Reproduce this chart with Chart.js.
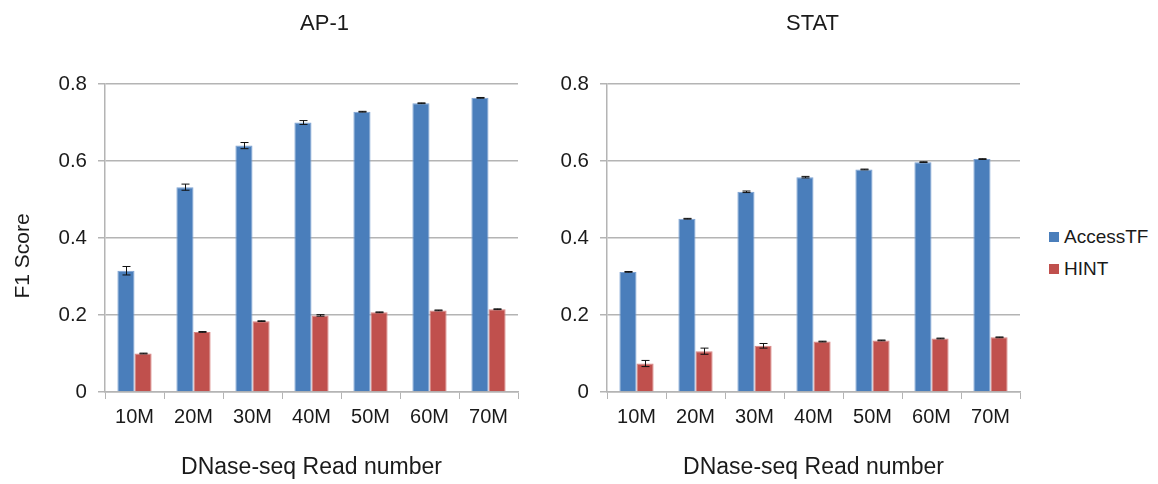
<!DOCTYPE html>
<html>
<head>
<meta charset="utf-8">
<script src="https://cdn.jsdelivr.net/npm/chart.js@4.4.1/dist/chart.umd.min.js"></script>
<style>
  body { margin: 0; background: #fff; font-family: "Liberation Sans", Arial, sans-serif; }
  #wrap { position: relative; width: 1158px; height: 484px; }
  #leftBox { position: absolute; left: 0; top: 0; }
  #rightBox { position: absolute; left: 540px; top: 0; }
  #legend { position: absolute; left: 1049px; top: 221px; font-size: 19px; color: #1a1a1a; }
  .item { display: flex; align-items: center; height: 32px; }
  .swatch { width: 10px; height: 10px; margin-right: 5px; }
</style>
</head>
<body>
<div id="wrap">
  <div id="leftBox"><canvas id="ap1Chart" width="540" height="484"></canvas></div>
  <div id="rightBox"><canvas id="statChart" width="500" height="484"></canvas></div>
  <div id="legend"></div>
</div>
<script>
const categories = ["10M", "20M", "30M", "40M", "50M", "60M", "70M"];
const seriesNames = ["AccessTF", "HINT"];
const seriesColors = ["#4a7ebb", "#c0504d"];
const seriesEdges = ["#7ea3d3", "#d98583"];
const yTicks = ["0", "0.2", "0.4", "0.6", "0.8"];

const ap1Access = [0.315, 0.532, 0.640, 0.700, 0.728, 0.750, 0.764];
const ap1AccessErr = [0.011, 0.008, 0.008, 0.005, 0.001, 0.001, 0.001];
const ap1Hint = [0.100, 0.156, 0.184, 0.199, 0.207, 0.212, 0.215];
const ap1HintErr = [0.001, 0.001, 0.001, 0.002, 0.001, 0.001, 0.001];

const statAccess = [0.312, 0.450, 0.520, 0.558, 0.578, 0.597, 0.605];
const statAccessErr = [0.001, 0.001, 0.002, 0.002, 0.001, 0.001, 0.001];
const statHint = [0.074, 0.106, 0.120, 0.131, 0.134, 0.139, 0.142];
const statHintErr = [0.008, 0.008, 0.006, 0.001, 0.001, 0.001, 0.001];

const FONT = '"Liberation Sans", Arial, sans-serif';
const TEXT = "#1a1a1a";
const GRID = "#b4b4b4";

// error bars drawn on top of each bar
const errorBars = {
  id: "errorBars",
  afterDatasetsDraw(chart) {
    const ctx = chart.ctx;
    const yScale = chart.scales.y;
    ctx.save();
    ctx.strokeStyle = "#111";
    ctx.lineWidth = 1;
    chart.data.datasets.forEach((ds, i) => {
      const meta = chart.getDatasetMeta(i);
      meta.data.forEach((bar, j) => {
        const v = ds.data[j];
        const e = ds.errors[j];
        const top = yScale.getPixelForValue(v + e);
        const bot = yScale.getPixelForValue(v - e);
        const x = Math.round(bar.x) + 0.5;
        ctx.beginPath();
        ctx.moveTo(x, top);
        ctx.lineTo(x, bot);
        ctx.moveTo(x - 4, top);
        ctx.lineTo(x + 4, top);
        ctx.moveTo(x - 4, bot);
        ctx.lineTo(x + 4, bot);
        ctx.stroke();
      });
    });
    ctx.restore();
  }
};

// panel title and optional y title
const panelText = {
  id: "panelText",
  afterDraw(chart, args, opts) {
    const ctx = chart.ctx;
    const area = chart.chartArea;
    ctx.save();
    ctx.fillStyle = TEXT;
    ctx.textAlign = "center";
    ctx.textBaseline = "middle";
    ctx.font = "22px " + FONT;
    ctx.fillText(opts.title, (area.left + area.right) / 2 + opts.shift, 24);
    if (opts.yTitle) {
      ctx.translate(23, 256);
      ctx.rotate(-Math.PI / 2);
      ctx.font = "21px " + FONT;
      ctx.fillText(opts.yTitle, 0, 0);
    }
    ctx.restore();
  }
};

function makeChart(id, title, shift, yTitle, axisWidth, padRight, access, accessErr, hint, hintErr) {
  const ctx = document.getElementById(id).getContext("2d");
  return new Chart(ctx, {
    type: "bar",
    data: {
      labels: categories,
      datasets: [
        {
          label: seriesNames[0],
          data: access,
          errors: accessErr,
          backgroundColor: seriesColors[0],
          borderColor: seriesEdges[0],
          borderWidth: 1,
        },
        {
          label: seriesNames[1],
          data: hint,
          errors: hintErr,
          backgroundColor: seriesColors[1],
          borderColor: seriesEdges[1],
          borderWidth: 1,
        },
      ],
    },
    options: {
      responsive: false,
      animation: false,
      layout: { padding: { top: 84, right: padRight, left: 0, bottom: 0 } },
      datasets: { bar: { categoryPercentage: 0.58, barPercentage: 1.0 } },
      plugins: {
        legend: { display: false },
        tooltip: { enabled: false },
        panelText: { title: title, shift: shift, yTitle: yTitle },
      },
      scales: {
        x: {
          grid: { drawOnChartArea: false, drawTicks: true, tickLength: 7, color: GRID },
          border: { color: GRID, width: 1.5 },
          ticks: { color: TEXT, font: { family: FONT, size: 20 }, padding: 6 },
          title: {
            display: true,
            text: "DNase-seq Read number",
            color: TEXT,
            font: { family: FONT, size: 23 },
            padding: { top: 0, bottom: 3 },
          },
          afterFit(scale) { scale.height = 92; },
        },
        y: {
          min: 0,
          max: 0.8,
          grid: { color: GRID, lineWidth: 1.5, tickLength: 7 },
          border: { color: GRID, width: 1.5 },
          ticks: {
            stepSize: 0.2,
            color: TEXT,
            padding: 11,
            font: { family: FONT, size: 20.5 },
            callback: (value, index) => yTicks[index],
          },
          afterFit(scale) { scale.width = axisWidth; },
        },
      },
    },
    plugins: [errorBars, panelText],
  });
}

makeChart("ap1Chart", "AP-1", 13, "F1 Score", 105, 22, ap1Access, ap1AccessErr, ap1Hint, ap1HintErr);
makeChart("statChart", "STAT", -1, null, 67, 20, statAccess, statAccessErr, statHint, statHintErr);

const legend = document.getElementById("legend");
seriesNames.forEach((name, i) => {
  legend.innerHTML += `<div class="item"><span class="swatch" style="background:${seriesColors[i]}"></span>${name}</div>`;
});
</script>
</body>
</html>
